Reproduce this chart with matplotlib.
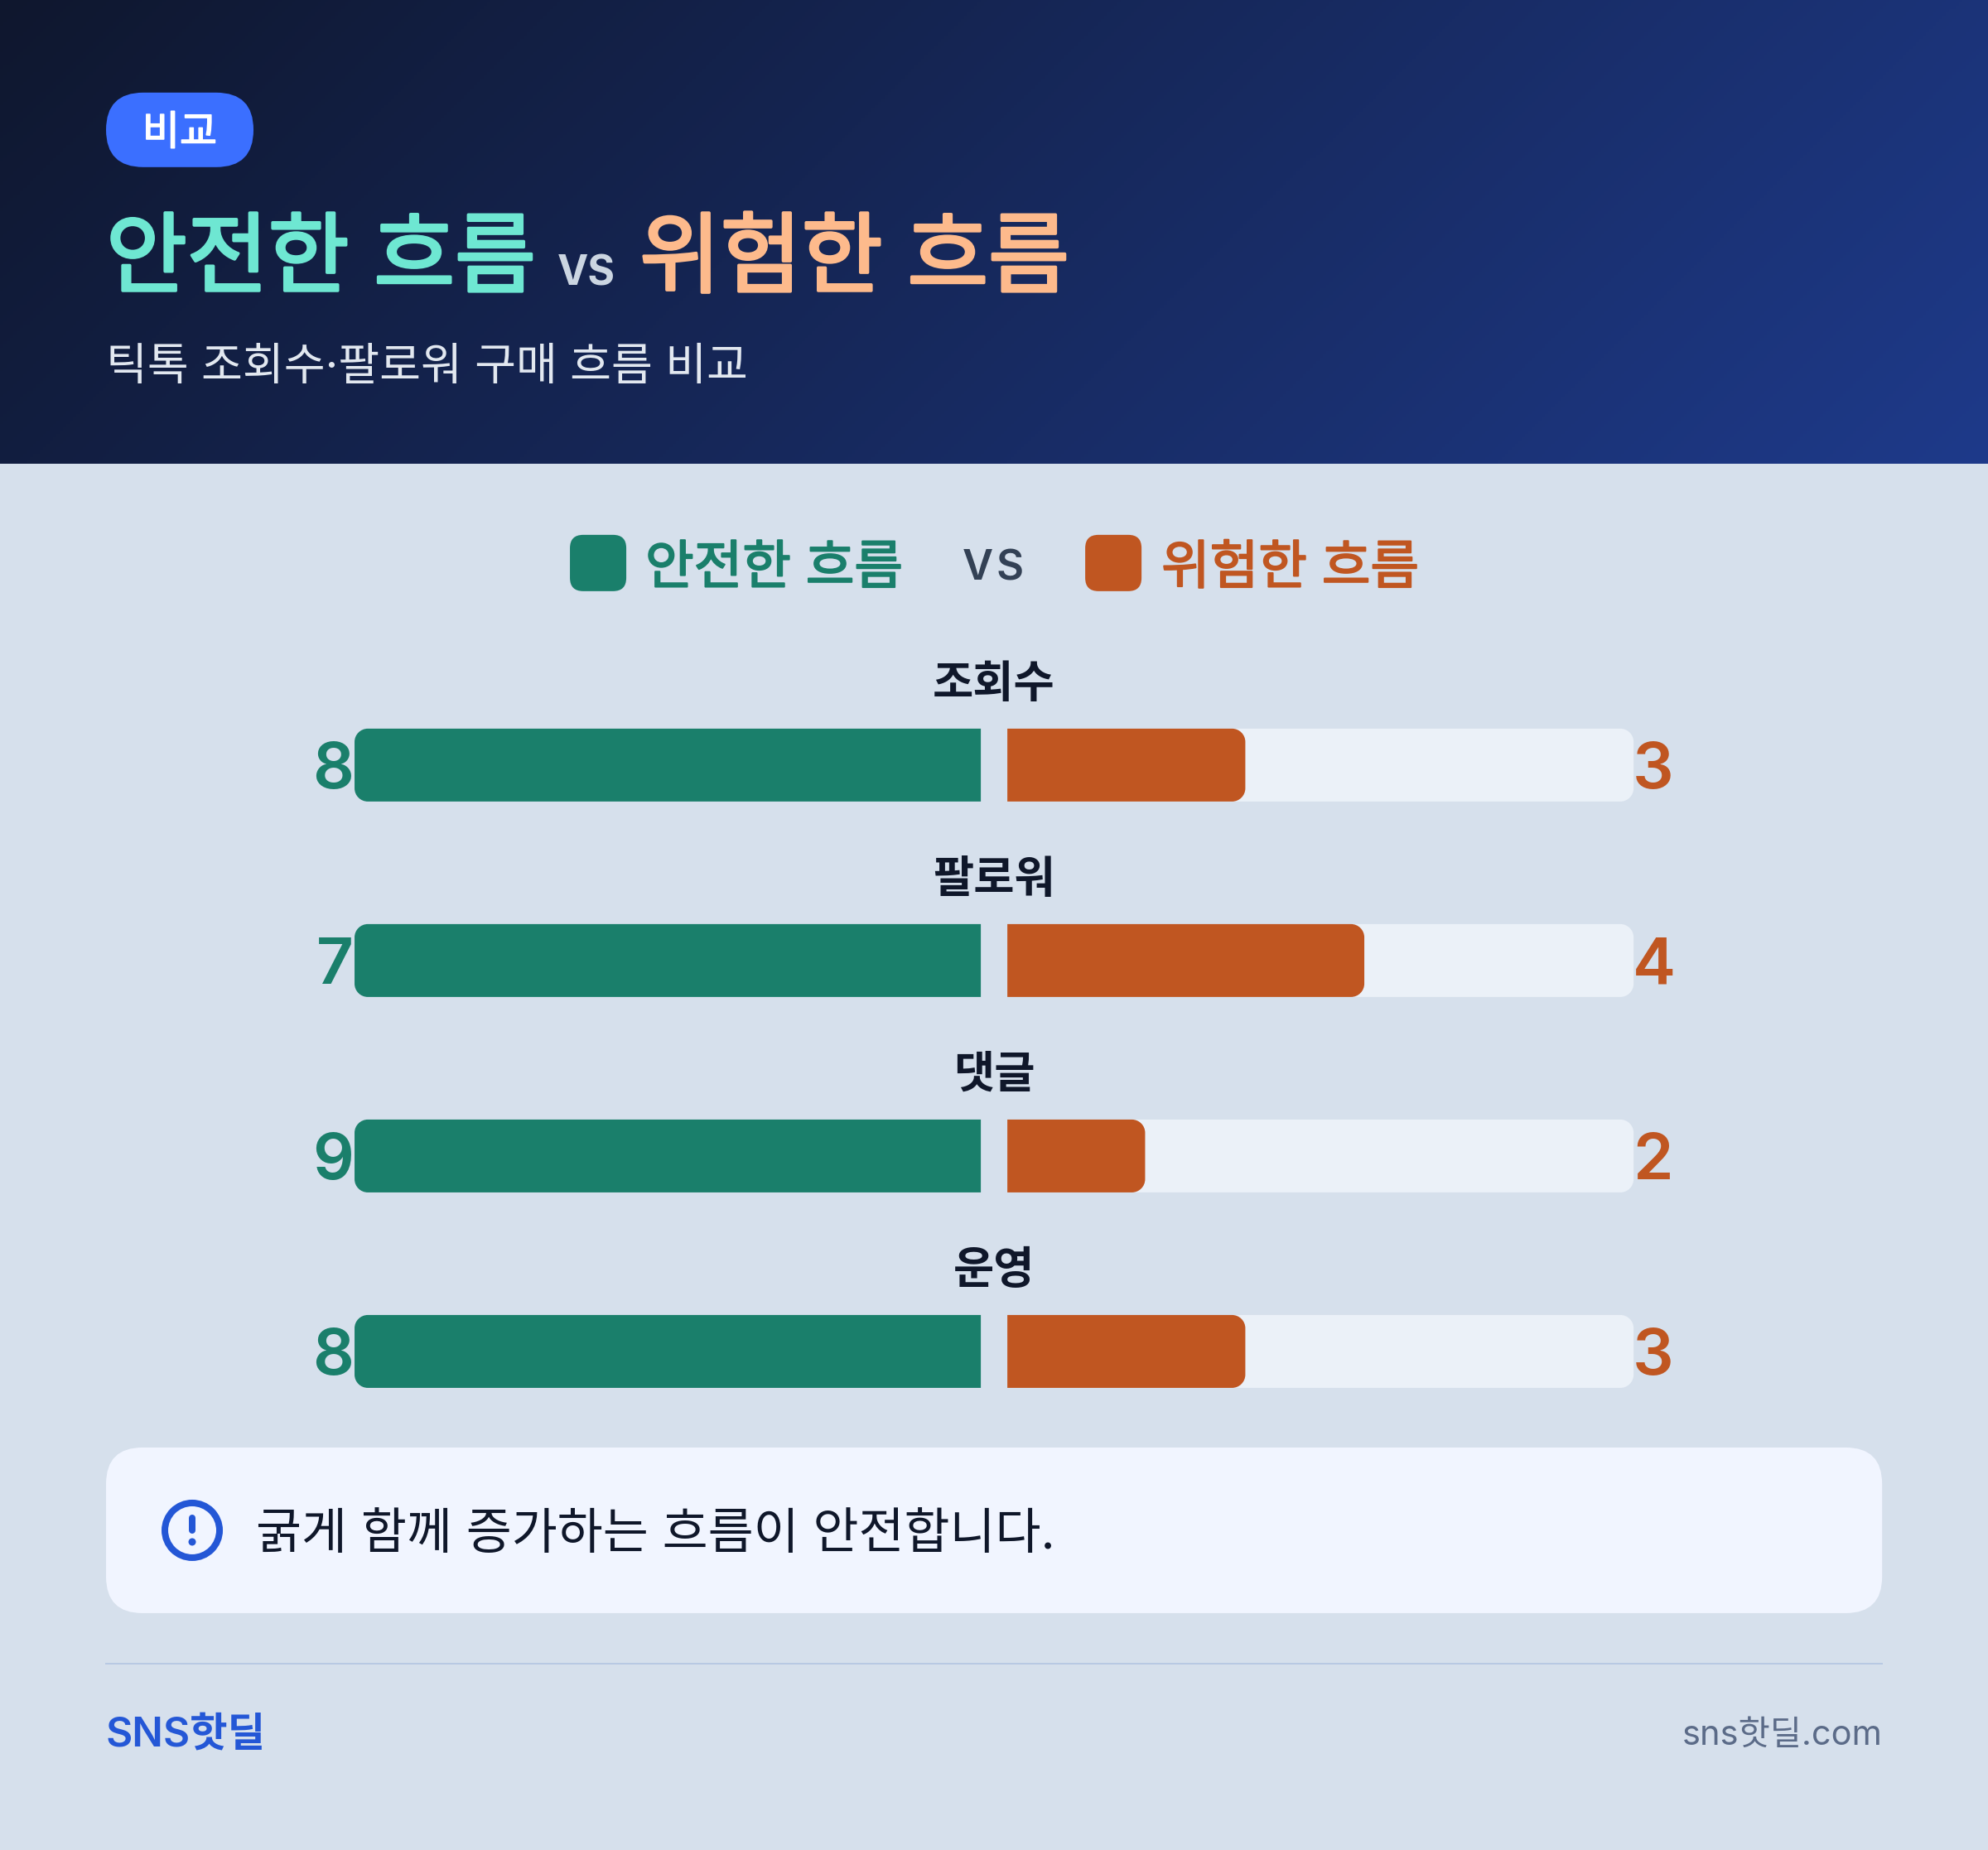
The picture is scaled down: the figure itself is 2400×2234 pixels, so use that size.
import numpy as np
import matplotlib
matplotlib.use("Agg")
import matplotlib.pyplot as plt
import matplotlib.patheffects as pe
from matplotlib.patches import PathPatch, FancyBboxPatch, Circle
from matplotlib.path import Path
from matplotlib.transforms import IdentityTransform

categories = ["조회수", "팔로워", "댓글", "운영"]
safe_scores = [8, 7, 9, 8]
risky_scores = [3, 4, 2, 3]
safe_fill_pct = [100, 100, 100, 100]
risky_fill_pct = [38, 57, 22, 38]

W, H = 2400, 2234
FONT = ["Inter", "Noto Sans CJK KR", "DejaVu Sans"]
plt.rcParams["font.family"] = FONT

BG = "#D6E0EC"; GREEN = "#1A7F6B"; ORANGE = "#C05621"; TRACK = "#EBF1F8"
INK = "#0F172A"; BLUE = "#2457D6"

fig = plt.figure(figsize=((W + 0.2) / 100, (H + 0.2) / 100), dpi=100, facecolor=BG)
cv = fig.add_axes([0, 0, 1, 1])
cv.set_xlim(0, W); cv.set_ylim(H, 0); cv.axis("off")

# header gradient
stops = np.array([[0x0F, 0x17, 0x2E], [0x1E, 0x3A, 0x8A]]) / 255
gx, gy = np.meshgrid(np.linspace(0, W, 600), np.linspace(0, 560, 140))
gt = ((gx + gy) / (W + 560))[..., None]
cv.imshow(stops[0] * (1 - gt) + stops[1] * gt, extent=[0, W, 560, 0], aspect="auto", zorder=0)
cv.set_xlim(0, W); cv.set_ylim(H, 0)

def txt(x, y, s, px, color, weight=400, ha="left", thicken=0, **kw):
    t = cv.text(x, y, s, fontsize=px * 0.72, color=color, fontweight=weight,
                ha=ha, va="baseline", zorder=5, **kw)
    if thicken:
        t.set_path_effects([pe.withStroke(linewidth=thicken * 0.72, foreground=color)])
    return t

def box(x0, y0, x1, y1, r, color, z=2):
    cv.add_patch(FancyBboxPatch((x0 + r, y0 + r), x1 - x0 - 2 * r, y1 - y0 - 2 * r,
                                boxstyle=f"round,pad={r},rounding_size={r}",
                                fc=color, ec="none", zorder=z))

# header content
box(128, 112, 306, 202, 45, "#3B6FFF")
txt(217, 175, "비교", 49, "white", 400, ha="center", thicken=1.6)
txt(128, 345, "안전한 흐름", 106.3, "#6EE7D2", 400, thicken=3.5)
txt(673, 344, "VS", 50, "#CBD5E1", 700)
txt(772, 345, "위험한 흐름", 106.3, "#FDBA8C", 400, thicken=3.5)
txt(128, 459, "틱톡 조회수·팔로워 구매 흐름 비교", 54.2, "#E2E8F0", 400)

# legend
box(688, 646, 756, 714, 16, GREEN)
txt(779, 705, "안전한 흐름", 63.7, GREEN, 400, thicken=2)
txt(1162, 700, "V", 51, "#334155", 600)
txt(1202, 700, "S", 51, "#334155", 600)
box(1310, 646, 1378, 714, 16, ORANGE)
txt(1402, 705, "위험한 흐름", 63.7, ORANGE, 400, thicken=2)

# bars
def axes_px(x0, y0, x1, y1):
    a = fig.add_axes([x0 / W, 1 - y1 / H, (x1 - x0) / W, (y1 - y0) / H])
    a.axis("off"); a.patch.set_alpha(0)
    return a

left = axes_px(428, 806, 1184, 1750); left.set_xlim(100, 0); left.set_ylim(3.5, -0.5)
right = axes_px(1216, 806, 1972, 1750); right.set_xlim(0, 100); right.set_ylim(3.5, -0.5)

def round_bar(ax, rect, color, r, z):
    """Replace a bar by the same box with a rounded outer end."""
    (ax0, ay0), (ax1, ay1) = ax.transData.transform(
        [(rect.get_x(), rect.get_y()), (rect.get_x() + rect.get_width(), rect.get_y() + rect.get_height())])
    inner, outer = ax0, ax1
    ylo, yhi = min(ay0, ay1), max(ay0, ay1)
    s = 1 if outer > inner else -1
    k = 0.4477 * r
    verts = [(inner, ylo), (outer - s * r, ylo), (outer - s * k, ylo), (outer, ylo + k), (outer, ylo + r),
             (outer, yhi - r), (outer, yhi - k), (outer - s * k, yhi), (outer - s * r, yhi),
             (inner, yhi), (inner, ylo)]
    codes = [Path.MOVETO, Path.LINETO, Path.CURVE4, Path.CURVE4, Path.CURVE4,
             Path.LINETO, Path.CURVE4, Path.CURVE4, Path.CURVE4, Path.LINETO, Path.CLOSEPOLY]
    rect.set_visible(False)
    p = PathPatch(Path(verts, codes), fc=color, ec="none", transform=IdentityTransform(), zorder=z, clip_on=False)
    ax.add_artist(p)

ypos = np.arange(len(categories))
bh = 88 / 236
for rect in left.barh(ypos, safe_fill_pct, height=bh):
    round_bar(left, rect, GREEN, 16, 3)
for rect in right.barh(ypos, [100] * len(ypos), height=bh):
    round_bar(right, rect, TRACK, 16, 2)
for rect in right.barh(ypos, risky_fill_pct, height=bh):
    round_bar(right, rect, ORANGE, 16, 3)

for i, c in enumerate(categories):
    yc = cv.transData.inverted().transform(left.transData.transform((0, i)))[1]
    txt(1200, yc - 82, c, 53.5, INK, 700, ha="center")
    txt(427, yc + 28, str(safe_scores[i]), 78, GREEN, 600, ha="right")
    txt(1971, yc + 28, str(risky_scores[i]), 78, ORANGE, 600)

# note panel
box(128, 1748, 2272, 1948, 44, "#F1F5FF")
cv.add_patch(Circle((232, 1848), 33, fc="none", ec=BLUE, lw=8 * 0.72, zorder=4))
cv.plot([232, 232], [1833, 1848], color=BLUE, lw=8 * 0.72, solid_capstyle="round", zorder=4)
cv.add_patch(Circle((232, 1862), 4.5, fc=BLUE, ec="none", zorder=4))
txt(309, 1870, "굵게 함께 증가하는 흐름이 안전합니다.", 59.8, INK, 400)

# footer
cv.plot([128, 2272], [2009, 2009], color="#B8C9E3", lw=2 * 0.72, zorder=2)
txt(127, 2108, "SNS핫딜", 49.5, BLUE, 600)
txt(2272, 2107, "sns핫딜.com", 41.5, "#5B6B88", 400, ha="right")

fig.savefig("out.png", dpi=100, facecolor=BG)
